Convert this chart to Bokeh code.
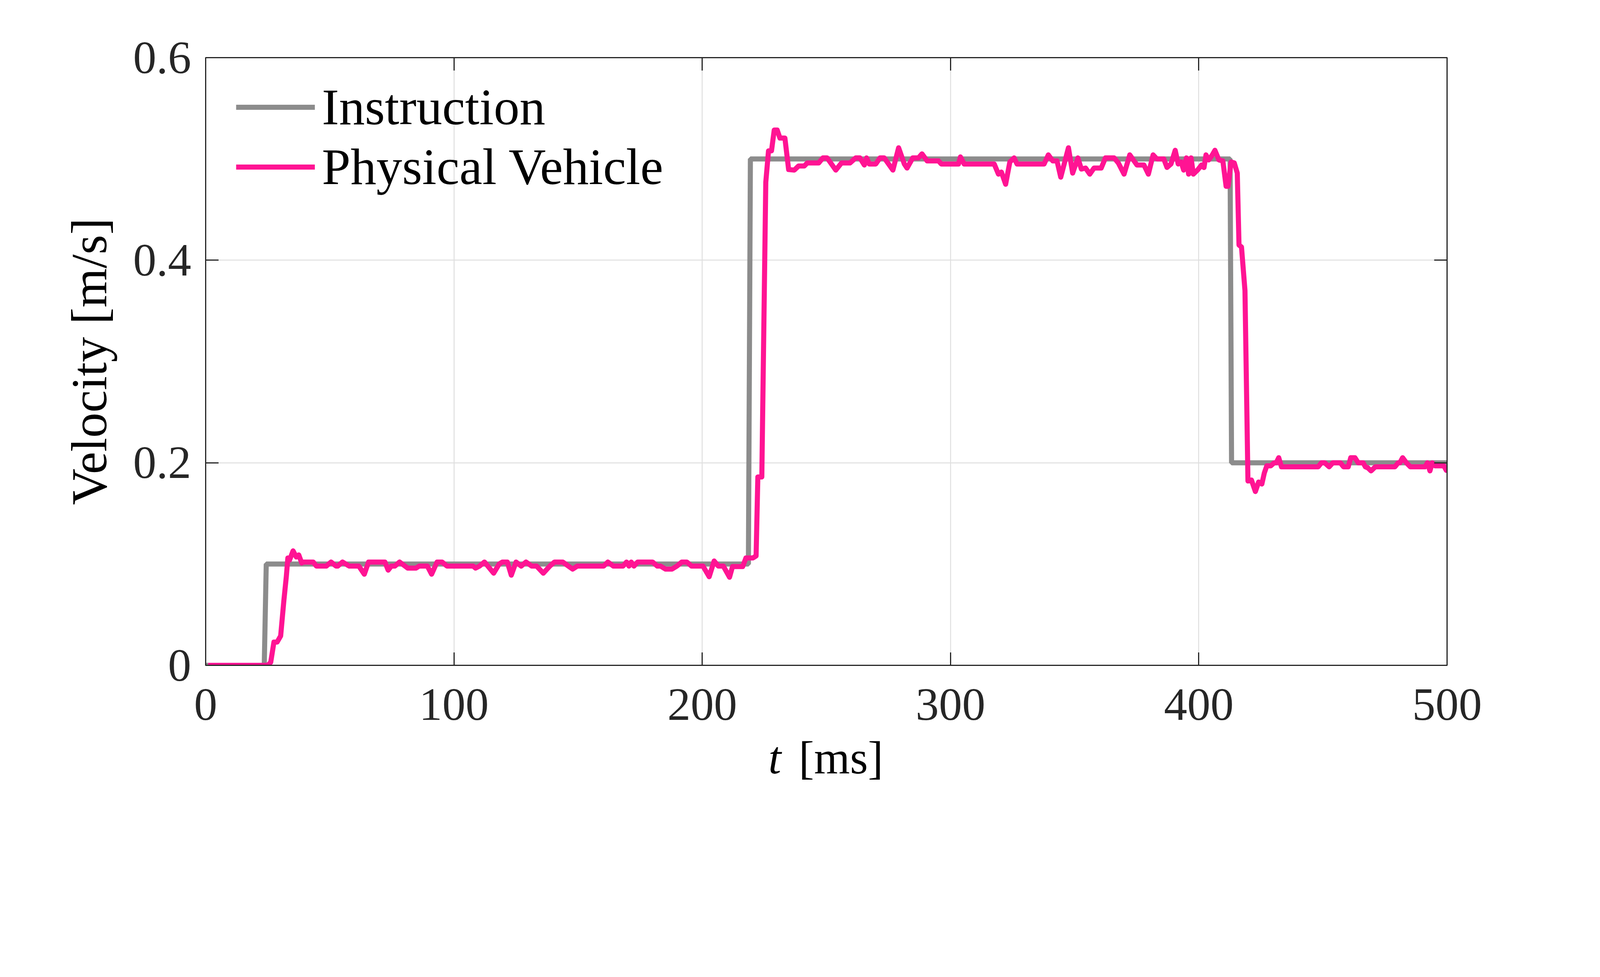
from bokeh.plotting import figure
from bokeh.models import Range1d, LinearAxis, FixedTicker, Div
from bokeh.layouts import column
from bokeh.embed import file_html
from bokeh.resources import INLINE

# Instruction (step command)
t_cmd = [0, 23.6, 24.4, 218.6, 219.4, 412.6, 413.2, 500]
v_cmd = [0, 0, 0.1, 0.1, 0.5, 0.5, 0.2, 0.2]

# Physical vehicle
t_veh = [1, 25, 26.2, 27.5, 28.8, 30.2, 31.5, 32.5, 33.1, 33.8, 35.2, 36.5, 37.5, 38.7,
         39.4, 43.3, 44.6, 48.6, 50.5, 52.5, 53.2, 55.1, 57.8, 61.7, 63.9, 65.6, 72.2,
         73.5, 74.8, 76.2, 78.1, 81.4, 84.7, 86.0, 89.3, 91.0, 93.2, 95.2, 97.2, 107.7,
         108.7, 110.3, 112.3, 116.0, 118.2, 119.5, 121.5, 123.1, 125.0, 127.1, 129.0,
         131.3, 133.3, 136.0, 138.6, 140.5, 143.8, 147.8, 149.7, 160.3, 162.0, 164.2,
         168.1, 169.5, 170.5, 171.4, 172.5, 174.0, 180.0, 181.9, 183.2, 185.2, 187.8,
         189.8, 191.8, 193.8, 195.7, 200.3, 202.8, 204.8, 206.5, 208.5, 211.0, 212.2,
         216.3, 217.6, 220.4, 221.7, 222.4, 224.0, 225.6, 226.7, 227.9, 229.0, 230.2,
         231.3, 233.3, 234.8, 237.1, 238.8, 241.1, 242.3, 246.9, 248.6, 250.3, 253.8,
         256.1, 259.5, 261.8, 263.5, 265.3, 266.2, 267.3, 269.9, 271.6, 273.3, 276.8,
         279.1, 281.4, 282.5, 284.8, 287.1, 288.5, 290.6, 295.2, 296.3, 303.2, 304.0,
         305.5, 317.6, 319.3, 320.5, 322.2, 323.9, 325.6, 326.8, 337.7, 339.4, 341.2,
         342.9, 344.4, 347.5, 349.2, 351.3, 352.7, 354.4, 356.1, 357.8, 360.7, 362.4,
         365.9, 367.6, 369.9, 372.2, 375.1, 377.9, 379.7, 381.6, 383.1, 385.9, 387.2,
         388.8, 390.5, 391.7, 392.9, 393.9, 395.0, 395.9, 396.9, 397.8, 399.5, 401.1,
         402.1, 402.9, 404.0, 405.2, 406.5, 408.1, 409.7, 411.0, 411.8, 413.0, 414.3,
         415.5, 416.2, 417.2, 418.6, 419.8, 421.2, 422.8, 424.1, 425.4, 426.4, 427.4,
         429.0, 430.4, 431.2, 432.2, 433.3, 448.1, 449.4, 450.7, 452.5, 454.0, 457.0,
         458.3, 460.2, 461.2, 462.9, 464.2, 466.2, 467.1, 468.1, 469.4, 471.1, 479.0,
         480.3, 481.0, 482.1, 483.6, 485.2, 491.1, 492.1, 493.1, 494.0, 495.1, 498.7,
         499.7, 500.3]
v_veh = [0, 0, 0.003, 0.023, 0.023, 0.029, 0.064, 0.088, 0.106, 0.104, 0.113, 0.107, 0.109, 0.101,
         0.102, 0.102, 0.098, 0.098, 0.102, 0.098, 0.098, 0.102, 0.098, 0.098, 0.090, 0.102, 0.102,
         0.094, 0.098, 0.098, 0.102, 0.096, 0.096, 0.098, 0.098, 0.090, 0.102, 0.102, 0.098, 0.098,
         0.096, 0.098, 0.102, 0.091, 0.100, 0.102, 0.102, 0.089, 0.102, 0.098, 0.102,
         0.098, 0.098, 0.091, 0.098, 0.102, 0.102, 0.095, 0.098, 0.098, 0.102, 0.098,
         0.098, 0.102, 0.098, 0.102, 0.098, 0.102, 0.102, 0.098, 0.098, 0.095, 0.095,
         0.098, 0.102, 0.102, 0.098, 0.098, 0.0875, 0.103, 0.098, 0.098, 0.087, 0.0975,
         0.0975, 0.106, 0.106, 0.108, 0.186, 0.186, 0.477, 0.508, 0.508, 0.5285, 0.5285,
         0.5206, 0.5206, 0.4895, 0.489, 0.493, 0.493, 0.496, 0.496, 0.501, 0.501, 0.489,
         0.496, 0.496, 0.501, 0.501, 0.494, 0.501, 0.495, 0.495, 0.501, 0.501, 0.489,
         0.511, 0.495, 0.491, 0.501, 0.501, 0.505, 0.498, 0.498, 0.495, 0.495, 0.502,
         0.495, 0.495, 0.485, 0.487, 0.475, 0.497, 0.501, 0.495, 0.495, 0.504, 0.498,
         0.498, 0.482, 0.511, 0.486, 0.501, 0.490, 0.491, 0.485, 0.491, 0.491, 0.501,
         0.501, 0.496, 0.485, 0.504, 0.494, 0.494, 0.485, 0.504, 0.500, 0.500, 0.4916,
         0.495, 0.5085, 0.495, 0.497, 0.489, 0.501, 0.485, 0.501, 0.485, 0.489, 0.494,
         0.4915, 0.504, 0.499, 0.503, 0.5085, 0.499, 0.498, 0.473, 0.473, 0.497, 0.496,
         0.486, 0.415, 0.413, 0.370, 0.182, 0.183, 0.1716, 0.181, 0.179, 0.190, 0.197,
         0.197, 0.200, 0.200, 0.205, 0.196, 0.196, 0.200, 0.200, 0.196, 0.200, 0.200,
         0.196, 0.196, 0.205, 0.205, 0.200, 0.200, 0.196, 0.195, 0.192, 0.196, 0.196,
         0.200, 0.200, 0.205, 0.200, 0.196, 0.196, 0.200, 0.192, 0.200, 0.197, 0.197,
         0.1925, 0.194]

x_ticks = [0, 100, 200, 300, 400, 500]
y_ticks = [0, 0.2, 0.4, 0.6]
y_tick_labels = {0: "0", 0.2: "0.2", 0.4: "0.4", 0.6: "0.6"}

FONT = "Liberation Serif"
AX = "#262626"

p = figure(width=4080, height=1910, output_backend="svg", toolbar_location=None,
           x_range=Range1d(0, 500), y_range=Range1d(0, 0.6),
           min_border_left=526, min_border_right=376, min_border_top=147, min_border_bottom=208)
p.background_fill_color = "white"
p.border_fill_color = "white"
p.outline_line_color = AX
p.outline_line_width = 3

p.line(t_cmd, v_cmd, color="#8c8c8c", line_width=13, legend_label="Instruction")
p.line(t_veh, v_veh, color="#ff1493", line_width=13, line_join="round",
       legend_label="Physical Vehicle")

p.xaxis.ticker = FixedTicker(ticks=x_ticks)
p.yaxis.ticker = FixedTicker(ticks=y_ticks)
p.yaxis.major_label_overrides = y_tick_labels

for ax in [p.xaxis[0], p.yaxis[0]]:
    ax.axis_line_color = AX
    ax.axis_line_width = 3
    ax.major_tick_line_color = AX
    ax.major_tick_line_width = 3
    ax.major_tick_in = 33
    ax.major_tick_out = 0
    ax.minor_tick_line_color = None
    ax.major_label_text_font = FONT
    ax.major_label_text_font_size = "119px"
    ax.major_label_text_color = AX
    ax.axis_label_text_font = FONT
    ax.axis_label_text_font_style = "normal"
    ax.axis_label_text_font_size = "129px"
    ax.axis_label_text_color = "black"

p.xaxis.major_label_standoff = 61
p.yaxis.major_label_standoff = 37
p.yaxis.axis_label = "Velocity [m/s]"
p.yaxis.axis_label_standoff = 38

# box ticks on top and right, MATLAB style
for side, ticks in [("above", x_ticks), ("right", y_ticks)]:
    extra = LinearAxis(ticker=FixedTicker(ticks=ticks))
    extra.axis_line_color = AX
    extra.axis_line_width = 3
    extra.major_tick_line_color = AX
    extra.major_tick_line_width = 3
    extra.major_tick_in = 33
    extra.major_tick_out = 0
    extra.minor_tick_line_color = None
    extra.major_label_text_font_size = "1px"
    extra.major_label_text_alpha = 0
    p.add_layout(extra, side)

p.xgrid.ticker = FixedTicker(ticks=x_ticks)
p.ygrid.ticker = FixedTicker(ticks=y_ticks)
p.grid.grid_line_color = "#dfdfdf"
p.grid.grid_line_width = 2.5

lg = p.legend[0]
lg.location = (78, 1199)
lg.border_line_color = None
lg.background_fill_alpha = 0
lg.padding = 0
lg.margin = 0
lg.spacing = 0
lg.glyph_width = 202
lg.glyph_height = 144
lg.label_height = 144
lg.label_standoff = 18
lg.label_text_font = FONT
lg.label_text_font_size = "132px"
lg.label_text_color = "black"

# x label below the plot: italic t, upright [ms]
xlabel = Div(text='<div style="position:relative; top:-30px; padding-left:1962px; '
                  'white-space:nowrap"><i>t</i>'
                  '<span style="margin-left:45px">[ms]</span></div>',
             width=4080, height=110,
             styles={"font-family": FONT, "font-size": "118px", "line-height": "110px",
                     "color": "black"})

layout = column(p, xlabel, spacing=0)
open("out.html", "w").write(file_html(layout, INLINE))
